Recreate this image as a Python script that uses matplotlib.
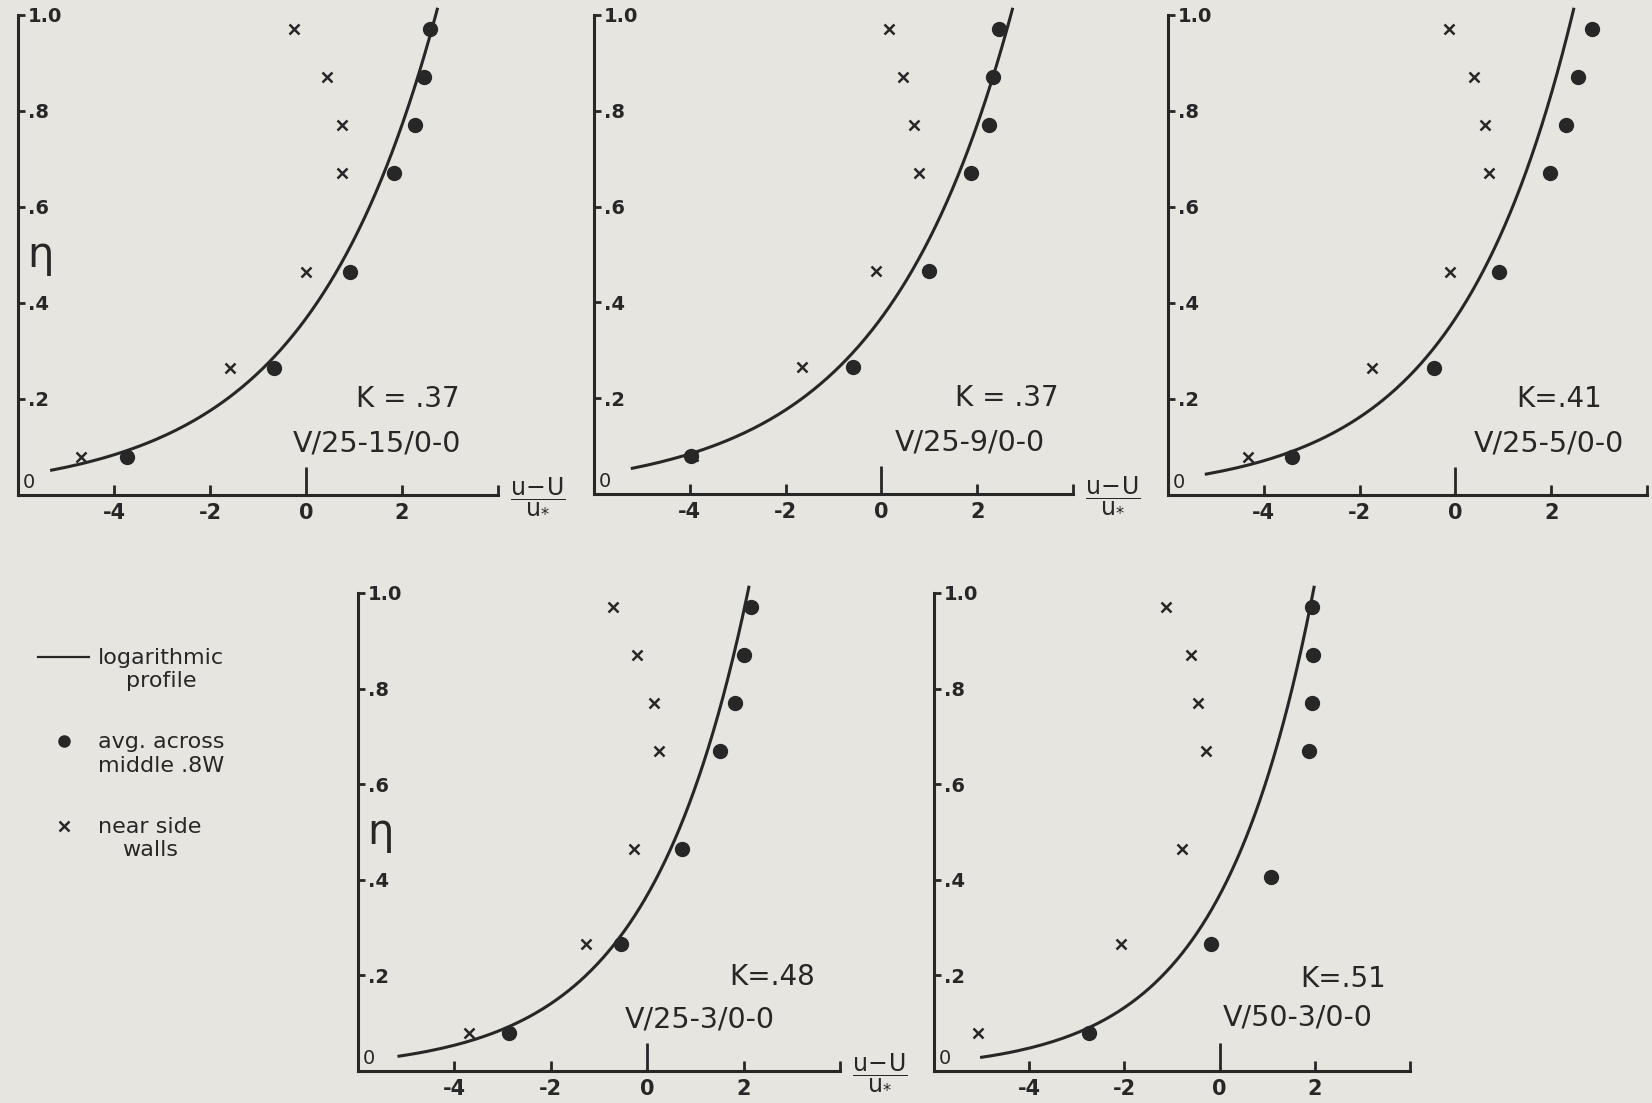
import numpy as np
import matplotlib.pyplot as plt
from matplotlib.lines import Line2D
from matplotlib.legend_handler import HandlerLine2D

plt.rcParams['font.family'] = ['DejaVu Sans']
plt.rcParams['mathtext.fontset'] = 'dejavusans'

W, H = 1652, 1103
paper = '#e6e5e0'
ink = '#272727'

# von Karman constant fitted for each run
kappas = [0.37, 0.37, 0.41, 0.48, 0.51]
kappa_labels = ['K = .37', 'K = .37', 'K=.41', 'K=.48', 'K=.51']
run_labels = ['V/25-15/0-0', 'V/25-9/0-0', 'V/25-5/0-0', 'V/25-3/0-0', 'V/50-3/0-0']

# relative depths of the measuring stations
eta_std = [0.97, 0.87, 0.77, 0.67, 0.465, 0.265, 0.08]
eta_p5 = [0.97, 0.87, 0.77, 0.67, 0.405, 0.265, 0.08]

# (u-U)/u* averaged across the middle .8W
mid_p1 = [2.59, 2.46, 2.27, 1.83, 0.91, -0.67, -3.72]
mid_p2 = [2.46, 2.34, 2.24, 1.88, 1.00, -0.60, -3.98]
mid_p3 = [2.85, 2.55, 2.30, 1.98, 0.92, -0.44, -3.41]
mid_p4 = [2.16, 2.00, 1.82, 1.50, 0.72, -0.54, -2.86]
mid_p5 = [1.94, 1.97, 1.94, 1.87, 1.07, -0.19, -2.75]

# (u-U)/u* near the side walls
wall_p1 = [-0.24, 0.43, 0.76, 0.76, 0.00, -1.58, -4.69]
wall_p2 = [0.16, 0.46, 0.69, 0.78, -0.11, -1.66, -3.93]
wall_p3 = [-0.13, 0.39, 0.61, 0.70, -0.11, -1.74, -4.32]
wall_p4 = [-0.70, -0.22, 0.14, 0.25, -0.27, -1.28, -3.70]
wall_p5 = [-1.12, -0.61, -0.46, -0.29, -0.80, -2.08, -5.07]

# where each drawn log profile begins (u-U)/u*
curve_x0 = [-5.3, -5.2, -5.2, -5.15, -5.0]

mid_x = [mid_p1, mid_p2, mid_p3, mid_p4, mid_p5]
wall_x = [wall_p1, wall_p2, wall_p3, wall_p4, wall_p5]
mid_eta = [eta_std, eta_std, eta_std, eta_std, eta_p5]
wall_eta = [eta_std] * 5

# panel frames in pixels: left, top, right, bottom
boxes = [(18, 15, 498, 495), (594, 15, 1073, 494), (1168, 15, 1647, 495),
         (358, 593, 840, 1071), (934, 593, 1410, 1071)]
kappa_pos = [(2.13, 0.20), (2.62, 0.20), (2.16, 0.20), (2.6, 0.196), (2.6, 0.193)]
run_pos = [(1.47, 0.107), (1.85, 0.107), (1.95, 0.107), (1.1, 0.108), (1.65, 0.112)]
show_eta = [True, False, False, True, False]
show_xlabel = [True, True, False, True, False]


class RaisedKey(HandlerLine2D):
    # puts the legend key level with the first line of a two-line label
    def create_artists(self, legend, orig_handle, xdescent, ydescent,
                       width, height, fontsize, trans):
        return super().create_artists(legend, orig_handle, xdescent,
                                      ydescent - 1.15 * fontsize, width, height,
                                      fontsize, trans)


fig = plt.figure(figsize=(W / 100, H / 100), dpi=100)
fig.patch.set_facecolor(paper)

for i in range(5):
    l, t, r, b = boxes[i]
    ax = fig.add_axes([l / W, 1 - b / H, (r - l) / W, (b - t) / H])
    ax.set_xlim(-6, 4)
    ax.set_ylim(0, 1)
    ax.patch.set_visible(False)
    for s in ['top', 'right']:
        ax.spines[s].set_visible(False)
    for s in ['left', 'bottom']:
        ax.spines[s].set_linewidth(2.2)
        ax.spines[s].set_color(ink)

    ax.set_xticks([-4, -2, 0, 2, 4])
    ax.set_xticklabels(['-4', '-2', '0', '2', ''])
    ax.tick_params(axis='x', direction='in', length=7, width=2, pad=6,
                   labelsize=15, colors=ink)
    ax.xaxis.get_major_ticks()[2].tick1line.set_markersize(20)
    for lab in ax.get_xticklabels():
        lab.set_fontweight('bold')

    ax.set_yticks([0.2, 0.4, 0.6, 0.8, 1.0])
    ax.set_yticklabels(['.2', '.4', '.6', '.8', '1.0'])
    ax.tick_params(axis='y', direction='in', length=5, width=2, pad=-7,
                   labelsize=14, colors=ink)
    for lab in ax.get_yticklabels():
        lab.set_ha('left')
        lab.set_fontweight('bold')
    ax.text(-5.9, 0.006, '0', fontsize=14, color=ink, ha='left', va='bottom')

    # logarithmic profile (u-U)/u* = (1 + ln eta) / kappa
    k = kappas[i]
    eta = np.linspace(np.exp(k * curve_x0[i] - 1), 1.012, 300)
    ax.plot((1 + np.log(eta)) / k, eta, color=ink, lw=2.2, clip_on=False)

    ax.plot(mid_x[i], mid_eta[i], 'o', ms=10, color=ink, clip_on=False)
    ax.plot(wall_x[i], wall_eta[i], 'x', ms=7, mew=1.8, color=ink, clip_on=False)

    ax.text(*kappa_pos[i], kappa_labels[i], fontsize=20, color=ink,
            ha='center', va='center')
    ax.text(*run_pos[i], run_labels[i], fontsize=20.5, color=ink,
            ha='center', va='center')
    if show_eta[i]:
        ax.text(-5.53, 0.50, 'η', fontsize=30, color=ink, ha='center', va='center')
    if show_xlabel[i]:
        ax.text(4.25, 0.0, r'$\dfrac{\mathrm{u\!-\!U}}{\mathrm{u}_{*}}$', fontsize=17,
                color=ink, ha='left', va='center', clip_on=False)

handles = [Line2D([], [], color=ink, lw=1.6),
           Line2D([], [], marker='o', ms=8, color=ink, ls='none'),
           Line2D([], [], marker='x', ms=7, mew=1.8, color=ink, ls='none')]
labels = ['logarithmic\nprofile', 'avg. across\nmiddle .8W', 'near side\nwalls']
leg = fig.legend(handles, labels, loc='upper left', bbox_to_anchor=(38 / W, 1 - 648 / H),
                 frameon=False, fontsize=16, handlelength=2.3, handletextpad=0.4,
                 labelspacing=1.85, borderaxespad=0, borderpad=0,
                 handler_map={Line2D: RaisedKey()})
for txt in leg.get_texts():
    txt.set_multialignment('center')
    txt.set_color(ink)

fig.savefig('out.png', dpi=100, facecolor=paper)
